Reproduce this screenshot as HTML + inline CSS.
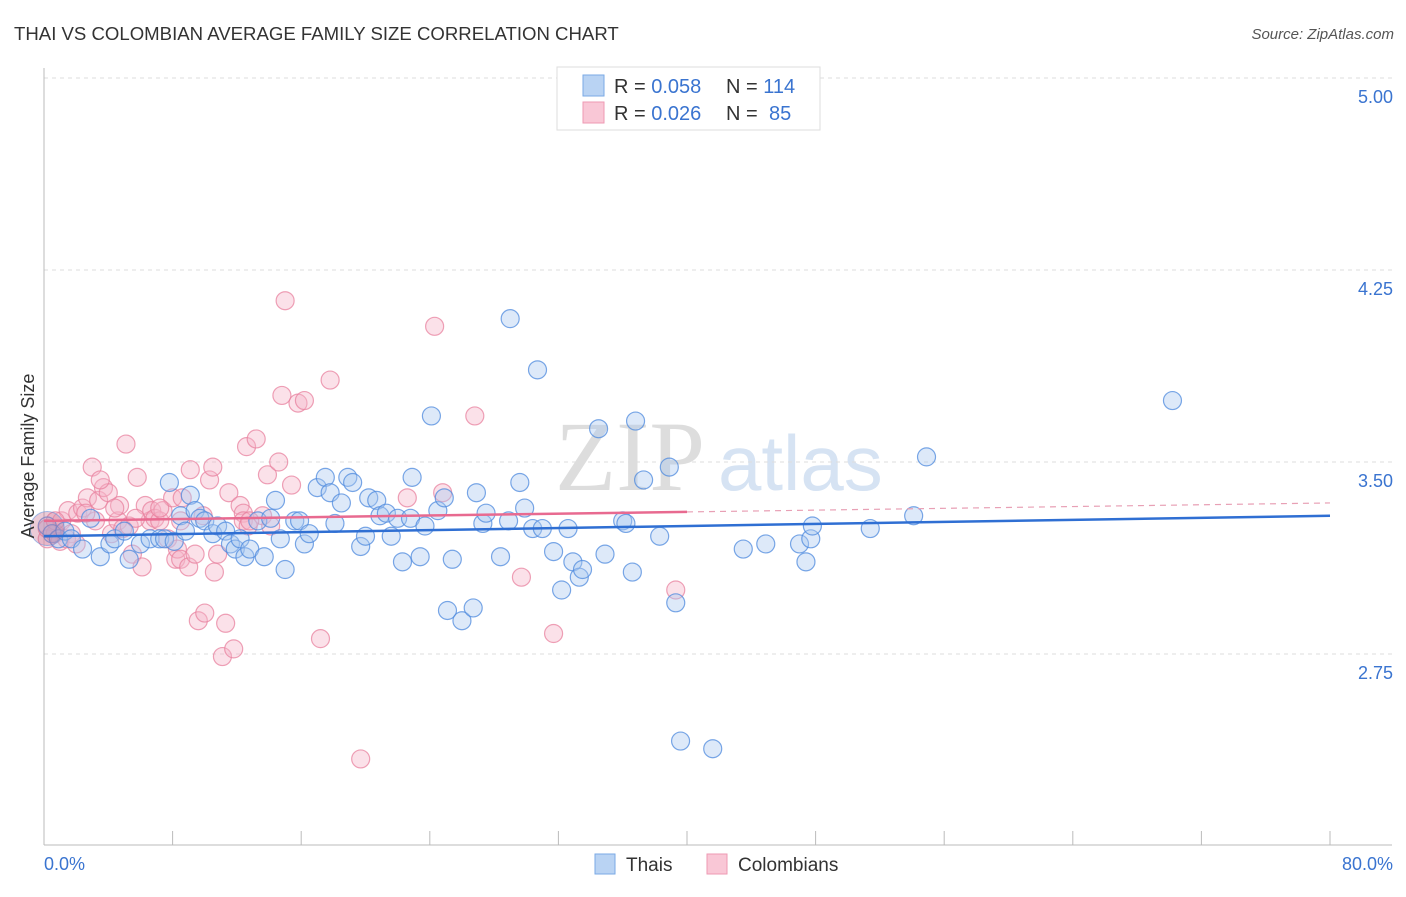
<!DOCTYPE html>
<html><head><meta charset="utf-8"><style>
body{margin:0;background:#fff;font-family:"Liberation Sans",sans-serif}
</style></head><body>
<svg id="c" width="1406" height="892" xmlns="http://www.w3.org/2000/svg" style="font-family:'Liberation Sans',sans-serif">
<text x="14" y="40" font-size="18.6" fill="#333">THAI VS COLOMBIAN AVERAGE FAMILY SIZE CORRELATION CHART</text>
<text x="1394" y="39" font-size="15" fill="#555" font-style="italic" text-anchor="end">Source: ZipAtlas.com</text>
<text x="555" y="490" font-size="100" fill="#ddd" font-family="Liberation Serif">ZIP</text>
<text x="718" y="490" font-size="78" fill="#d6e3f3">atlas</text>
<g id="grid"></g><g id="axes"></g><g id="pts"></g><g id="trend"></g>
<text transform="translate(34,456) rotate(-90)" font-size="18" fill="#333" text-anchor="middle">Average Family Size</text>
<text x="44" y="870" font-size="18" fill="#3a74d0">0.0%</text>
<text x="1393" y="870" font-size="18" fill="#3a74d0" text-anchor="end">80.0%</text>
<g>
<rect x="557" y="67" width="263" height="63" fill="#fff" stroke="#ddd"/>
<rect x="583" y="75" width="21" height="21" fill="#b9d3f3" stroke="#7aaae6"/>
<rect x="583" y="102" width="21" height="21" fill="#f9c7d6" stroke="#ee9ab3"/>
<text x="614" y="93" font-size="20" fill="#333">R = <tspan fill="#3a74d0">0.058</tspan><tspan x="726">N = </tspan><tspan fill="#3a74d0">114</tspan></text>
<text x="614" y="120" font-size="20" fill="#333">R = <tspan fill="#3a74d0">0.026</tspan><tspan x="726">N = </tspan><tspan fill="#3a74d0" x="769">85</tspan></text>
</g>
<g>
<rect x="595" y="854" width="20" height="20" fill="#b9d3f3" stroke="#7aaae6"/>
<text x="626" y="871" font-size="19" fill="#333">Thais</text>
<rect x="707" y="854" width="20" height="20" fill="#f9c7d6" stroke="#ee9ab3"/>
<text x="738" y="871" font-size="19" fill="#333">Colombians</text>
</g>
</svg>
<script>
const yTicks=[5.00,4.25,3.50,2.75];
const xTicks=[0,8,16,24,32,40,48,56,64,72,80];
const thaiX=[0.2,0.5,0.9,1.3,1.7,2.4,2.9,3.5,4.1,4.4,5.0,5.3,6.0,6.6,7.2,7.5,7.8,8.1,8.5,8.8,9.1,9.4,9.7,10.0,10.5,10.8,11.3,11.6,11.9,12.2,12.5,12.8,13.3,13.7,14.1,14.4,14.7,15.0,15.6,15.9,16.2,16.5,17.0,17.5,17.8,18.1,18.5,18.9,19.2,19.7,20.0,20.2,20.7,20.9,21.3,21.6,22.0,22.3,22.8,22.9,23.4,23.7,24.1,24.5,24.9,25.1,25.4,26.0,26.7,26.9,27.3,27.5,28.4,28.9,29.0,29.6,29.9,30.4,30.7,31.0,31.7,32.2,32.6,32.9,33.3,33.5,34.5,34.9,36.0,36.2,36.6,36.8,37.3,38.3,38.9,39.3,39.6,41.6,43.5,44.9,47.0,47.4,47.7,47.8,51.4,54.1,54.9,70.2];
const thaiY=[3.25,3.22,3.20,3.23,3.20,3.16,3.28,3.13,3.18,3.20,3.23,3.12,3.18,3.20,3.20,3.20,3.42,3.19,3.29,3.23,3.37,3.31,3.28,3.27,3.22,3.25,3.23,3.18,3.16,3.20,3.13,3.16,3.27,3.13,3.28,3.35,3.20,3.08,3.27,3.27,3.18,3.22,3.40,3.44,3.38,3.26,3.34,3.44,3.42,3.17,3.21,3.36,3.35,3.29,3.30,3.21,3.28,3.11,3.28,3.44,3.13,3.25,3.68,3.31,3.36,2.92,3.12,2.88,2.93,3.38,3.26,3.30,3.13,3.27,4.06,3.42,3.32,3.24,3.86,3.24,3.15,3.00,3.24,3.11,3.05,3.08,3.63,3.14,3.27,3.26,3.07,3.66,3.43,3.21,3.48,2.95,2.41,2.38,3.16,3.18,3.18,3.11,3.20,3.25,3.24,3.29,3.52,3.74];
const colX=[0.2,0.7,1.0,1.1,1.5,1.7,2.1,2.4,2.7,3.0,3.2,3.4,3.7,4.0,4.2,4.6,4.7,4.9,5.1,5.3,5.5,5.8,6.1,6.3,6.6,6.7,6.9,7.2,7.4,7.7,8.0,8.2,8.3,8.5,8.6,9.0,9.1,9.4,9.6,9.9,10.0,10.3,10.5,10.6,10.8,11.1,11.3,11.5,11.8,12.2,12.4,12.4,12.6,12.7,13.2,13.6,13.9,14.6,14.8,15.0,15.4,15.8,16.2,17.2,17.8,19.7,22.6,24.3,24.8,26.8,29.7,31.7,39.3,0.2,0.7,1.4,2.0,2.6,3.5,4.4,5.7,7.2,8.5,12.8,14.1];
const colY=[3.20,3.22,3.19,3.27,3.31,3.22,3.30,3.32,3.36,3.48,3.27,3.35,3.40,3.38,3.22,3.27,3.33,3.24,3.57,3.25,3.14,3.44,3.09,3.33,3.27,3.31,3.28,3.27,3.31,3.20,3.36,3.12,3.16,3.12,3.36,3.09,3.47,3.14,2.88,3.29,2.91,3.43,3.48,3.07,3.14,2.74,2.87,3.38,2.77,3.33,3.30,3.27,3.56,3.25,3.59,3.29,3.45,3.50,3.76,4.13,3.41,3.73,3.74,2.81,3.82,2.34,3.36,4.03,3.38,3.68,3.05,2.83,3.00,3.24,3.27,3.20,3.18,3.30,3.43,3.32,3.28,3.32,3.27,3.27,3.25];
const thaiTrend=[3.21,3.29];
const colTrend=[3.27,3.34];
const NS='http://www.w3.org/2000/svg';
const X0=44,X1=1330,Y0=78;
const sx=v=>X0+(v/80)*(X1-X0);
const sy=v=>Y0+(5-v)*256;
function mk(tag,attrs,parent){const e=document.createElementNS(NS,tag);for(const k in attrs)e.setAttribute(k,attrs[k]);document.getElementById(parent).appendChild(e);return e;}
yTicks.forEach(t=>{
 const l=mk('line',{x1:X0,x2:1392,y1:sy(t),y2:sy(t),stroke:'#ddd','stroke-dasharray':'4,4'},'grid');
 
 
 const tx=mk('text',{x:1393,y:sy(t)+25,'font-size':18,fill:'#3a74d0','text-anchor':'end'},'grid');
 tx.textContent=t.toFixed(2);
 
 
});
let a=mk('line',{x1:X0,x2:X0,y1:68,y2:845,stroke:'#bbb'},'axes');


a=mk('line',{x1:X0,x2:1392,y1:845,y2:845,stroke:'#bbb'},'axes');


xTicks.forEach(t=>{const l=mk('line',{x1:sx(t),x2:sx(t),y1:831,y2:845,stroke:'#bbb'},'axes');
 
 });
function dots(xs,ys,fill,stroke,name){xs.forEach((x,i)=>{const c=mk('circle',{cx:sx(x),cy:sy(ys[i]),r:9,fill:fill,'fill-opacity':0.4,stroke:stroke,'stroke-opacity':0.75,'stroke-width':1.2},'pts');
 
 });}
dots(colX,colY,'#f5b3c7','#e8829f','colombian-point');
dots(thaiX,thaiY,'#a9c8f0','#4d8ade','thai-point');
const big=mk('circle',{cx:sx(0.2),cy:sy(3.24),r:17,fill:'#c56a8c','fill-opacity':0.35,stroke:'#4d8ade','stroke-opacity':0.5},'pts');


let t=mk('line',{x1:sx(0),x2:sx(80),y1:sy(thaiTrend[0]),y2:sy(thaiTrend[1]),stroke:'#2f6fd3','stroke-width':2.5},'trend');


const cm=colTrend[0]+(colTrend[1]-colTrend[0])*0.5;
t=mk('line',{x1:sx(0),x2:sx(40),y1:sy(colTrend[0]),y2:sy(cm),stroke:'#e86a90','stroke-width':2.5},'trend');


t=mk('line',{x1:sx(40),x2:sx(80),y1:sy(cm),y2:sy(colTrend[1]),stroke:'#e8a0b5','stroke-width':1.2,'stroke-dasharray':'6,5'},'trend');


</script>
</body></html>
